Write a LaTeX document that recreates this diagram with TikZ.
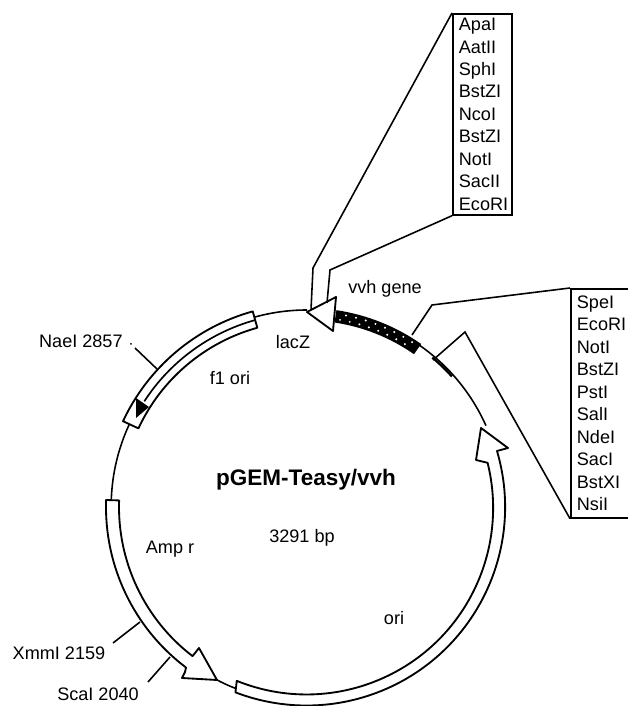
\documentclass[tikz,border=0pt]{standalone}
\usepackage{fontspec}
\setmainfont{Liberation Sans}
\usepackage{tikz}
\usetikzlibrary{arrows.meta,calc}
\tikzset{
  linea/.style={line width=0.9pt,black},
  banda/.style={line width=1.05pt,black,fill=white,line join=round},
  caja/.style={draw,line width=1pt,anchor=north west,align=left,inner xsep=0.12cm,inner ysep=0pt,font=\fontsize{10.3}{12.8}\selectfont},
  rotulo/.style={inner sep=0pt,font=\fontsize{10.3}{12}\selectfont}
}
\begin{document}
\begin{tikzpicture}[x=0.02cm,y=0.02cm]
\useasboundingbox (0,0) rectangle (628,706);
\begin{scope}[shift={(307,199)}]
\draw[linea] (106:197) arc[start angle=106,end angle=90,radius=197] coordinate (tiplac);
\draw[linea] (155:196) arc[start angle=155,end angle=178,radius=194];
\draw[linea] (56:197) arc[start angle=56,end angle=24,radius=194];
\draw[line width=1.3pt] (50:195) arc[start angle=50,end angle=42,radius=195];
\draw[linea] (242:195) arc[start angle=242,end angle=249,radius=195];
\draw[banda] (105.5:203) arc[start angle=105.5,end angle=155,radius=203] -- (155:186) arc[start angle=155,end angle=105.5,radius=186] -- cycle;
\draw[line width=0.95pt] (105.5:194) arc[start angle=105.5,end angle=147,radius=194];
\fill (-171,109) -- (-158,100) -- (-171,89) -- cycle;
\draw[banda] (178:188) arc[start angle=178,end angle=232.5,radius=188] -- (-108,-141) -- (-90,-173) -- (-125,-171) -- (-122,-165) -- (233:201) arc[start angle=233,end angle=178,radius=201] -- cycle;
\draw[banda] (248:187.5) arc[start angle=248,end angle=374,radius=186.5] -- (169,47) -- (174,79) -- (201,59) -- (190,56) arc[start angle=16.4,end angle=-111,radius=198.5] -- cycle;
\fill[black] (81.5:186.5) arc[start angle=81.5,end angle=55,radius=186.5] -- (55:199) arc[start angle=55,end angle=81.5,radius=199] -- cycle;
\foreach \ang in {80,77,...,57} {
  \fill[white] (\ang:190) circle (1.1);
  \fill[white] ({\ang-1.5}:195.5) circle (1.1);
}
\end{scope}
\draw[banda] (307,394) coordinate (puntalac) -- (336,409) -- (333,375) -- cycle;
\node[caja,text width=0.94cm,minimum height=4.02cm] (cajaa) at (452,693) {ApaI\\AatII\\SphI\\BstZI\\NcoI\\BstZI\\NotI\\SacII\\EcoRI};
\node[caja,text width=1.08cm,minimum height=4.58cm] (cajab) at (570,418) {SpeI\\EcoRI\\NotI\\BstZI\\PstI\\SalI\\NdeI\\SacI\\BstXI\\NsiI};
\coordinate (ca1) at (313,438);
\coordinate (ca2) at (311,396);
\coordinate (ca3) at (330,436);
\coordinate (ca4) at (327,403);
\coordinate (cb1) at (432,401);
\coordinate (cb2) at (412,371);
\coordinate (cb3) at (465,374);
\coordinate (cb4) at (433,346);
\draw[linea] (cajaa.north west) -- (ca1) -- (ca2);
\draw[linea] (cajaa.south west) -- (ca3) -- (ca4);
\draw[linea] (cajab.north west) -- (cb1) -- (cb2);
\draw[linea] (cajab.south west) -- (cb3) -- (cb4);
\node[rotulo,anchor=east] (nae) at (123,365) {NaeI 2857};
\node[rotulo] (xmm) at (59,53) {XmmI 2159};
\node[rotulo] (sca) at (98,12) {ScaI 2040};
\node[rotulo] (vvh) at (385,417) {vvh gene};
\node[rotulo] (lac) at (293,364) {lacZ};
\node[rotulo] (f1) at (230,328) {f1 ori};
\node[rotulo] (amp) at (170,157) {Amp r};
\node[rotulo] (ori) at (394,88) {ori};
\node[rotulo] (bp) at (302,168) {3291 bp};
\node[inner sep=0pt,font=\fontsize{12.8}{15}\bfseries\selectfont] (titulo) at (306,226) {pGEM-Teasy/vvh};
\coordinate (tnae) at (135,358);
\coordinate (mnae) at (157,337);
\coordinate (txmm) at (113,63);
\coordinate (mxmm) at (140,84);
\coordinate (tsca) at (148,24);
\coordinate (msca) at (170,49);
\draw[linea] (tnae) -- (mnae);
\fill (131,362) circle (1);
\draw[linea] (txmm) -- (mxmm);
\draw[linea] (tsca) -- (msca);
\end{tikzpicture}
\end{document}
